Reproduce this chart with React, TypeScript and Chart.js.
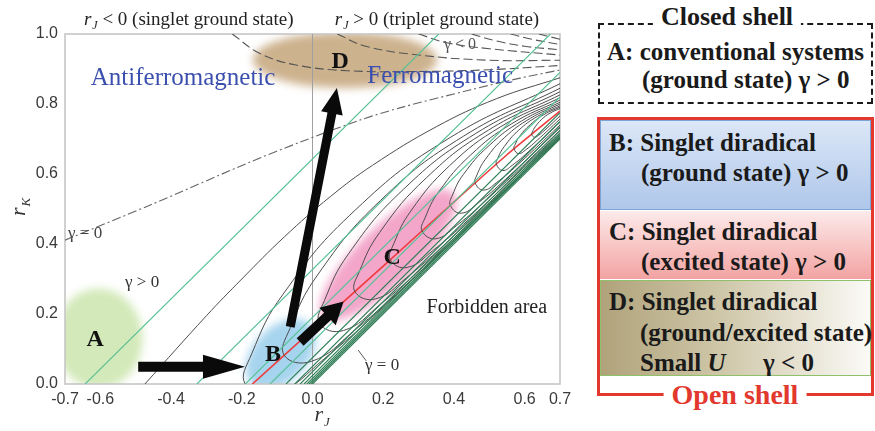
import React, { useEffect, useRef } from "react";
import { Chart, registerables } from "chart.js";

Chart.register(...registerables);

type Pt = [number, number];

// ---- axes ----
const xTicks = [-0.7, -0.6, -0.4, -0.2, 0.0, 0.2, 0.4, 0.6, 0.7];
const yTicks = [0.0, 0.2, 0.4, 0.6, 0.8, 1.0];

// ---- light green contour lines (straight) ----
const greenLines: Pt[][] = [
  [[-0.643, 0], [0.357, 1.0]],
  [[-0.327, 0], [0.673, 1.0]],
  [[-0.19, 0], [0.7, 0.89]],
  [[-0.12, 0], [0.7, 0.82]],
];
// ---- dense dark green lines near the forbidden boundary ----
const greenDenseLines: Pt[][] = [
  [[-0.075, 0], [0.7, 0.775]],
  [[-0.05, 0], [0.7, 0.75]],
  [[-0.035, 0], [0.7, 0.735]],
  [[-0.024, 0], [0.7, 0.724]],
  [[-0.016, 0], [0.7, 0.716]],
  [[-0.01, 0], [0.7, 0.71]],
  [[-0.005, 0], [0.7, 0.705]],
  [[0.0, 0], [0.7, 0.7]],
];

// ---- black γ contours ----
const fanCurve: Pt[] = [[-0.474, 0], [-0.3, 0.195], [-0.2, 0.3], [-0.08, 0.42], [0.05, 0.535], [0.17, 0.625], [0.35, 0.735], [0.52, 0.815], [0.7, 0.875]];
const loop0: Pt[] = [[0.7, 0.858], [0.389, 0.704], [0.122, 0.498], [-0.083, 0.257], [-0.172, 0.086], [-0.19, 0], [-0.101, -0.024], [0.033, 0.072], [0.255, 0.272], [0.7, 0.702]];
const loop1: Pt[] = [[0.7, 0.845], [0.427, 0.708], [0.193, 0.525], [0.014, 0.311], [-0.064, 0.158], [-0.08, 0.082], [-0.002, 0.065], [0.115, 0.15], [0.31, 0.326], [0.7, 0.703]];
const loop2: Pt[] = [[0.7, 0.835], [0.462, 0.716], [0.258, 0.557], [0.102, 0.372], [0.034, 0.239], [0.02, 0.173], [0.088, 0.153], [0.19, 0.226], [0.36, 0.379], [0.7, 0.707]];
const loop3: Pt[] = [[0.7, 0.826], [0.497, 0.725], [0.323, 0.59], [0.19, 0.433], [0.132, 0.32], [0.12, 0.264], [0.178, 0.243], [0.265, 0.303], [0.41, 0.433], [0.7, 0.712]];
const loop4: Pt[] = [[0.7, 0.818], [0.532, 0.735], [0.388, 0.624], [0.278, 0.494], [0.23, 0.401], [0.22, 0.355], [0.268, 0.333], [0.34, 0.381], [0.46, 0.487], [0.7, 0.718]];
const loop5: Pt[] = [[0.7, 0.811], [0.564, 0.744], [0.447, 0.654], [0.357, 0.549], [0.318, 0.474], [0.31, 0.437], [0.349, 0.415], [0.408, 0.453], [0.505, 0.538], [0.7, 0.725]];
const loop6: Pt[] = [[0.7, 0.805], [0.592, 0.752], [0.499, 0.681], [0.427, 0.599], [0.396, 0.54], [0.39, 0.51], [0.421, 0.488], [0.468, 0.517], [0.545, 0.584], [0.7, 0.732]];
const loop7: Pt[] = [[0.7, 0.8], [0.616, 0.759], [0.544, 0.705], [0.489, 0.642], [0.465, 0.597], [0.46, 0.574], [0.484, 0.554], [0.52, 0.575], [0.58, 0.626], [0.7, 0.74]];
const loop8: Pt[] = [[0.7, 0.795], [0.637, 0.765], [0.583, 0.725], [0.542, 0.678], [0.524, 0.645], [0.52, 0.628], [0.538, 0.61], [0.565, 0.625], [0.61, 0.663], [0.7, 0.748]];
const loop9: Pt[] = [[0.7, 0.791], [0.655, 0.77], [0.616, 0.741], [0.586, 0.708], [0.573, 0.684], [0.57, 0.672], [0.583, 0.658], [0.603, 0.669], [0.635, 0.696], [0.7, 0.757]];
const loop10: Pt[] = [[0.7, 0.787], [0.672, 0.774], [0.648, 0.756], [0.63, 0.735], [0.622, 0.72], [0.62, 0.713], [0.628, 0.705], [0.64, 0.711], [0.66, 0.728], [0.7, 0.766]];

// ---- red ridge line ----
const ridgeRed: Pt[] = [[-0.17, 0], [0.0, 0.155], [0.2, 0.337], [0.4, 0.52], [0.55, 0.655], [0.7, 0.78]];
// ---- γ = 0 dash-dot ----
const gammaZero: Pt[] = [[-0.7, 0.411], [-0.46, 0.511], [-0.177, 0.634], [-0.035, 0.691], [0.134, 0.754], [0.247, 0.789], [0.445, 0.84], [0.587, 0.874], [0.7, 0.897]];
// ---- γ < 0 dashed ----
const dashed1: Pt[] = [[-0.227, 1.0], [-0.15, 0.945], [-0.05, 0.912], [0.1, 0.895], [0.3, 0.893], [0.5, 0.898], [0.7, 0.91]];
const dashed2: Pt[] = [[0.07, 1.0], [0.15, 0.965], [0.3, 0.94], [0.5, 0.925], [0.7, 0.925]];
const dashed3: Pt[] = [[0.3, 1.0], [0.38, 0.975], [0.5, 0.958], [0.7, 0.94]];
const dashed4: Pt[] = [[0.45, 1.0], [0.52, 0.98], [0.6, 0.965], [0.7, 0.955]];
const dashed5: Pt[] = [[0.56, 1.0], [0.62, 0.985], [0.7, 0.97]];
const dashed6: Pt[] = [[0.64, 1.0], [0.7, 0.985]];

const SERIF = '"Liberation Serif", "Times New Roman", serif';
const SANS = '"Liberation Sans", Arial, sans-serif';

const toXY = (pts: Pt[]) => pts.map(([x, y]) => ({ x, y }));
const mk = (pts: Pt[], color: string, width: number, tension: number, dash: number[] = []) => ({
  data: toXY(pts),
  showLine: true,
  borderColor: color,
  borderWidth: width,
  pointRadius: 0,
  tension,
  borderDash: dash,
  fill: false,
});

// annotation objects (data-space anchors, pixel sizes)
const blobs = [
  { cx: -0.605, cy: 0.13, rx: 44, ry: 50, rot: 0, color: "#d3e9b9" },
  { cx: -0.09, cy: 0.085, rx: 42, ry: 27, rot: -0.8, color: "#a6d4ee" },
  { cx: 0.214, cy: 0.369, rx: 90, ry: 29, rot: -0.76, color: "#f3a6ca" },
  { cx: 0.092, cy: 0.926, rx: 92, ry: 28, rot: 0, color: "#cdb28e" },
];
const arrows = [
  { from: [-0.493, 0.049], to: [-0.191, 0.049], shaft: 10, hl: 42, hw: 24 },
  { from: [-0.063, 0.163], to: [0.069, 0.846], shaft: 9, hl: 26, hw: 22 },
  { from: [-0.035, 0.12], to: [0.088, 0.236], shaft: 10, hl: 22, hw: 24 },
];
const letters = [
  { t: "A", x: -0.615, y: 0.126 },
  { t: "B", x: -0.112, y: 0.083 },
  { t: "C", x: 0.225, y: 0.36 },
  { t: "D", x: 0.078, y: 0.92 },
];
const notes = [
  { t: "Antiferromagnetic", x: -0.366, y: 0.874, font: `25px ${SERIF}`, color: "#3b4fae" },
  { t: "Ferromagnetic", x: 0.361, y: 0.88, font: `25px ${SERIF}`, color: "#3b4fae" },
  { t: "Forbidden area", x: 0.493, y: 0.217, font: `20px ${SERIF}`, color: "#222" },
  { t: "γ > 0", x: -0.482, y: 0.289, font: `17px ${SERIF}`, color: "#333" },
  { t: "γ = 0", x: -0.643, y: 0.431, font: `17px ${SERIF}`, color: "#444" },
  { t: "γ < 0", x: 0.417, y: 0.969, font: `16px ${SERIF}`, color: "#555" },
  { t: "γ = 0", x: 0.197, y: 0.054, font: `17px ${SERIF}`, color: "#333" },
];

function drawRSub(ctx: CanvasRenderingContext2D, cx: number, cy: number, sub: string, size: number, subSize: number, rest = "", restSize = 0) {
  ctx.font = `italic ${size}px ${SERIF}`;
  const wr = ctx.measureText("r").width + 1;
  ctx.font = `italic ${subSize}px ${SERIF}`;
  const ws = ctx.measureText(sub).width;
  let wrest = 0;
  if (rest) {
    ctx.font = `${restSize}px ${SERIF}`;
    wrest = ctx.measureText(rest).width;
  }
  const x0 = cx - (wr + ws + wrest) / 2;
  const base = cy + size * 0.33;
  ctx.textAlign = "left";
  ctx.textBaseline = "alphabetic";
  ctx.font = `italic ${size}px ${SERIF}`;
  ctx.fillText("r", x0, base);
  ctx.font = `italic ${subSize}px ${SERIF}`;
  ctx.fillText(sub, x0 + wr, base + size * 0.2);
  if (rest) {
    ctx.font = `${restSize}px ${SERIF}`;
    ctx.fillText(rest, x0 + wr + ws, base);
  }
}

const decorPlugin = {
  id: "decor",
  beforeDatasetsDraw(chart: any) {
    const { ctx, chartArea: a, scales } = chart;
    const sx = scales.x, sy = scales.y;
    ctx.save();
    ctx.beginPath();
    ctx.rect(a.left, a.top, a.right - a.left, a.bottom - a.top);
    ctx.clip();
    ctx.filter = "blur(4px)";
    for (const b of blobs) {
      ctx.fillStyle = b.color;
      ctx.beginPath();
      ctx.ellipse(sx.getPixelForValue(b.cx), sy.getPixelForValue(b.cy), b.rx, b.ry, b.rot, 0, Math.PI * 2);
      ctx.fill();
    }
    ctx.filter = "none";
    ctx.restore();
    ctx.save();
    ctx.strokeStyle = "#c6c6c6";
    ctx.lineWidth = 1.6;
    ctx.strokeRect(a.left, a.top, a.right - a.left, a.bottom - a.top);
    const x0 = sx.getPixelForValue(0);
    ctx.strokeStyle = "#a0a0a0";
    ctx.lineWidth = 1;
    ctx.beginPath();
    ctx.moveTo(x0, a.top);
    ctx.lineTo(x0, a.bottom);
    ctx.stroke();
    ctx.restore();
  },
  afterDatasetsDraw(chart: any) {
    const { ctx, chartArea: a, scales } = chart;
    const sx = scales.x, sy = scales.y;
    ctx.save();
    ctx.fillStyle = "#0a0a0a";
    for (const ar of arrows) {
      const x1 = sx.getPixelForValue(ar.from[0]), y1 = sy.getPixelForValue(ar.from[1]);
      const x2 = sx.getPixelForValue(ar.to[0]), y2 = sy.getPixelForValue(ar.to[1]);
      const L = Math.hypot(x2 - x1, y2 - y1);
      const ux = (x2 - x1) / L, uy = (y2 - y1) / L;
      const nx = -uy, ny = ux;
      const bx = x2 - ux * ar.hl, by = y2 - uy * ar.hl;
      const s = ar.shaft / 2, h = ar.hw / 2;
      ctx.beginPath();
      ctx.moveTo(x1 + nx * s, y1 + ny * s);
      ctx.lineTo(bx + nx * s, by + ny * s);
      ctx.lineTo(bx + nx * h, by + ny * h);
      ctx.lineTo(x2, y2);
      ctx.lineTo(bx - nx * h, by - ny * h);
      ctx.lineTo(bx - nx * s, by - ny * s);
      ctx.lineTo(x1 - nx * s, y1 - ny * s);
      ctx.closePath();
      ctx.fill();
    }
    ctx.strokeStyle = "#555";
    ctx.lineWidth = 1;
    ctx.beginPath();
    ctx.moveTo(sx.getPixelForValue(0.129), sy.getPixelForValue(0.097));
    ctx.lineTo(sx.getPixelForValue(0.152), sy.getPixelForValue(0.066));
    ctx.stroke();
    ctx.textAlign = "center";
    ctx.textBaseline = "middle";
    for (const n of notes) {
      ctx.font = n.font;
      ctx.fillStyle = n.color;
      ctx.fillText(n.t, sx.getPixelForValue(n.x), sy.getPixelForValue(n.y));
    }
    ctx.font = `bold 24px ${SERIF}`;
    ctx.fillStyle = "#111";
    for (const l of letters) {
      ctx.fillText(l.t, sx.getPixelForValue(l.x), sy.getPixelForValue(l.y));
    }
    ctx.fillStyle = "#222";
    drawRSub(ctx, sx.getPixelForValue(-0.35), a.top - 15, "J", 19, 12, " < 0 (singlet ground state)", 19);
    drawRSub(ctx, sx.getPixelForValue(0.352), a.top - 15, "J", 19, 12, " > 0 (triplet ground state)", 19);
    ctx.fillStyle = "#333";
    drawRSub(ctx, sx.getPixelForValue(0.027), 414, "J", 22, 13);
    ctx.translate(18, 207);
    ctx.rotate(-Math.PI / 2);
    drawRSub(ctx, 0, 0, "K", 22, 13);
    ctx.restore();
  },
};

function ChartCanvas() {
  const ref = useRef<HTMLCanvasElement>(null);
  useEffect(() => {
    if (!ref.current) return;
    const black = "#4d4d4d";
    const datasets: any[] = [
      ...greenLines.map((l) => mk(l, "#57c196", 1.1, 0)),
      ...greenDenseLines.map((l) => mk(l, "#2f7d55", 1.1, 0)),
      mk(fanCurve, black, 1, 0.4),
      ...[loop0, loop1, loop2, loop3, loop4, loop5, loop6, loop7, loop8, loop9, loop10].map((l) => mk(l, black, 1, 0.45)),
      mk(gammaZero, "#666", 1.1, 0.3, [9, 3, 2, 3]),
      ...[dashed1, dashed2, dashed3, dashed4, dashed5, dashed6].map((l) => mk(l, "#555", 1.1, 0.4, [9, 4])),
      mk(ridgeRed, "#ee3b3b", 1.6, 0.2),
    ];
    const chart = new Chart(ref.current, {
      type: "scatter",
      data: { datasets },
      options: {
        responsive: false,
        animation: false,
        devicePixelRatio: 1,
        layout: { padding: { left: 0, right: 30, top: 34, bottom: 0 } },
        plugins: { legend: { display: false }, tooltip: { enabled: false } },
        scales: {
          x: {
            type: "linear",
            min: -0.7,
            max: 0.7,
            afterBuildTicks: (s: any) => {
              s.ticks = xTicks.map((v) => ({ value: v }));
            },
            afterFit: (s: any) => {
              s.height = 47;
            },
            ticks: {
              callback: (v: any) => Number(v).toFixed(1),
              font: { family: SANS, size: 16 },
              color: "#3a3a3a",
              padding: 6,
              maxRotation: 0,
              autoSkip: false,
            },
            grid: { display: false, drawTicks: false },
            border: { display: false },
          },
          y: {
            type: "linear",
            min: 0,
            max: 1,
            afterBuildTicks: (s: any) => {
              s.ticks = yTicks.map((v) => ({ value: v }));
            },
            afterFit: (s: any) => {
              s.width = 65;
            },
            ticks: {
              callback: (v: any) => Number(v).toFixed(1),
              font: { family: SANS, size: 16 },
              color: "#3a3a3a",
              padding: 7,
              autoSkip: false,
            },
            grid: { display: false, drawTicks: false },
            border: { display: false },
          },
        },
      } as any,
      plugins: [decorPlugin as any],
    });
    return () => chart.destroy();
  }, []);
  return <canvas ref={ref} width={590} height={431} style={{ position: "absolute", left: 0, top: 0 }} />;
}

function PText(props: { x: number; y: number; size?: number; color?: string; bg?: string; center?: boolean; children: React.ReactNode }) {
  const size = props.size ?? 25;
  return (
    <div
      style={{
        position: "absolute",
        left: props.x,
        top: props.y - size * 0.6,
        lineHeight: `${size * 1.2}px`,
        fontSize: size,
        fontFamily: SERIF,
        fontWeight: "bold",
        color: props.color ?? "#1a1a1a",
        whiteSpace: "nowrap",
        background: props.bg,
        padding: props.bg ? "0 8px" : undefined,
        transform: props.center ? "translateX(-50%)" : undefined,
      }}
    >
      {props.children}
    </div>
  );
}

export default function App() {
  return (
    <div style={{ position: "fixed", left: 0, top: 0, width: 875, height: 431, background: "#fff", overflow: "hidden" }}>
      <ChartCanvas />
      <div style={{ position: "absolute", left: 598, top: 23, width: 275, height: 81, boxSizing: "border-box", border: "2.5px dashed #1a1a1a" }} />
      <PText x={727} y={17} size={26} bg="#fff" center>Closed shell</PText>
      <PText x={607} y={52}>A: conventional systems</PText>
      <PText x={642} y={80}>(ground state) γ &gt; 0</PText>
      <div style={{ position: "absolute", left: 597, top: 117, width: 277, height: 279, boxSizing: "border-box", border: "3px solid #e2382e" }} />
      <div style={{ position: "absolute", left: 600, top: 120, width: 271, height: 90, boxSizing: "border-box", border: "1px solid #7aa5d8", background: "linear-gradient(to bottom, #dce7f7, #afc7ea)" }} />
      <div style={{ position: "absolute", left: 600, top: 211, width: 271, height: 68, boxSizing: "border-box", background: "linear-gradient(to bottom, #fdeaea, #f2a3a2)" }} />
      <div style={{ position: "absolute", left: 600, top: 280, width: 271, height: 96, boxSizing: "border-box", border: "1px solid #8fc06a", background: "linear-gradient(to right, #b0a37b, #cfc7a9 45%, #fbfaf6)" }} />
      <PText x={609} y={143}>B: Singlet diradical</PText>
      <PText x={641} y={173}>(ground state) γ &gt; 0</PText>
      <PText x={609} y={232}>C: Singlet diradical</PText>
      <PText x={641} y={262}>(excited state) γ &gt; 0</PText>
      <PText x={609} y={302}>D: Singlet diradical</PText>
      <PText x={640} y={333}>(ground/excited state)</PText>
      <PText x={640} y={363}>
        Small <i>U</i>
      </PText>
      <PText x={763} y={363}>γ &lt; 0</PText>
      <PText x={735} y={395} size={28} color="#e2382e" bg="#fff" center>Open shell</PText>
    </div>
  );
}
